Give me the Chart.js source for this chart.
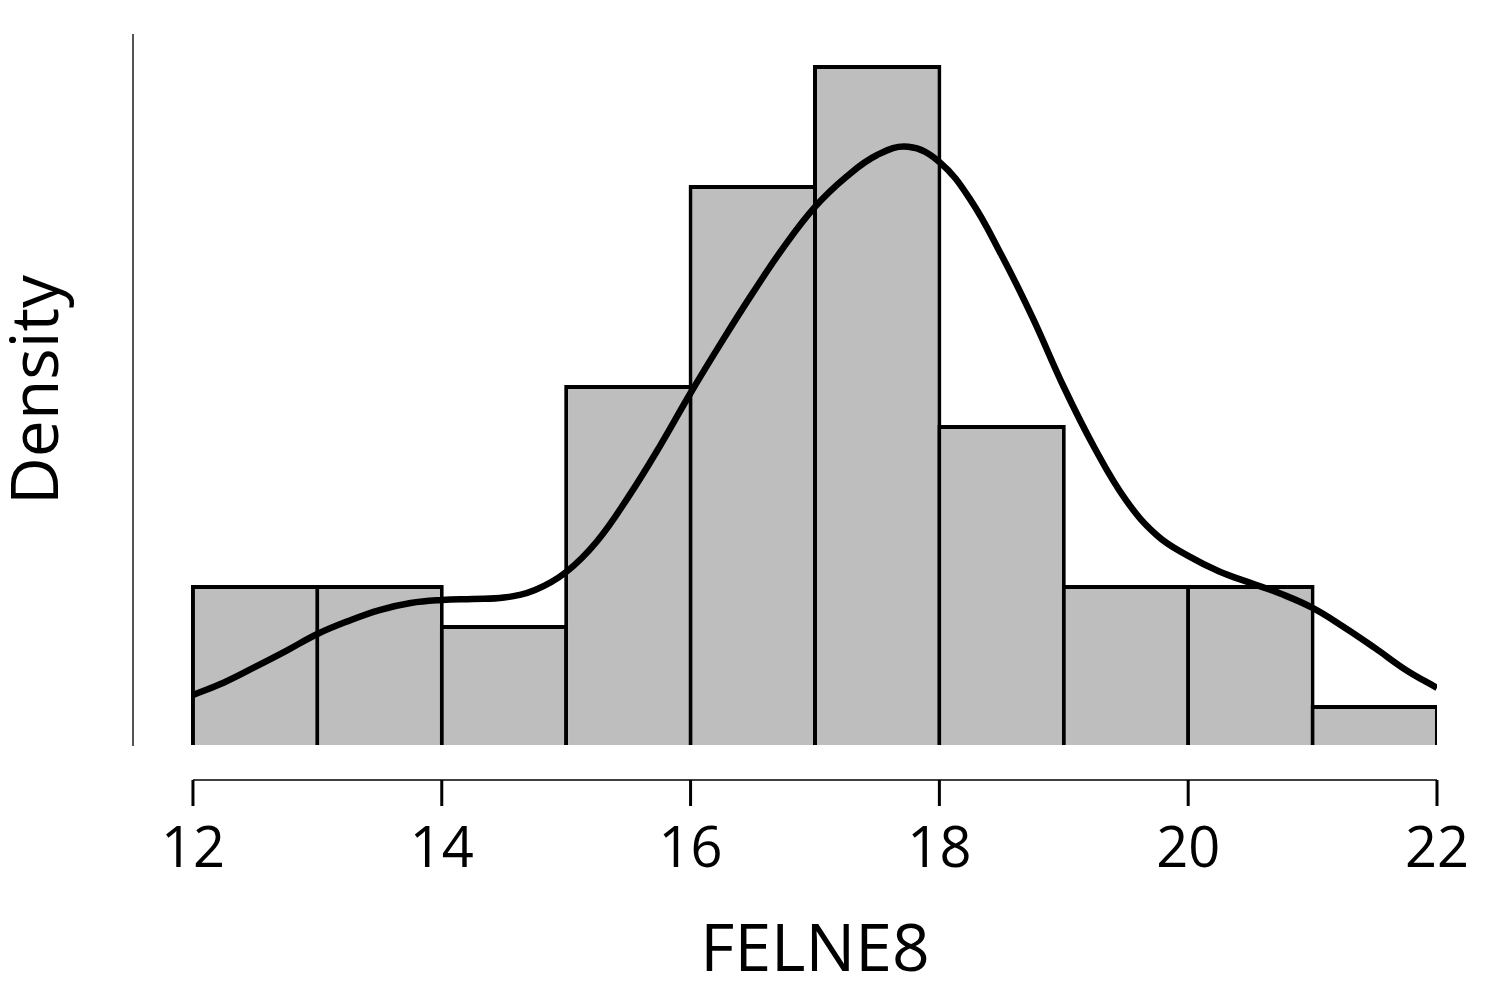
<!DOCTYPE html>
<html>
<head>
<meta charset="utf-8">
<script src="https://cdn.jsdelivr.net/npm/chart.js@4.4.1/dist/chart.umd.min.js"></script>
<style>
  html, body { margin: 0; padding: 0; background: #fff; }
  #wrap { width: 1500px; height: 1000px; }
</style>
</head>
<body>
<div id="wrap"><canvas id="hist" width="1500" height="1000"></canvas></div>
<script>
// histogram bins, width 1
const binStarts = [12, 13, 14, 15, 16, 17, 18, 19, 20, 21];
const binCounts = [4, 4, 3, 9, 14, 17, 8, 4, 4, 1];

// density curve, every 0.25
const curveX = [12, 12.25, 12.5, 12.75, 13, 13.25, 13.5, 13.75, 14, 14.25, 14.5, 14.75,
  15, 15.25, 15.5, 15.75, 16, 16.25, 16.5, 16.75, 17, 17.25, 17.5, 17.75,
  18, 18.25, 18.5, 18.75, 19, 19.25, 19.5, 19.75, 20, 20.25, 20.5, 20.75,
  21, 21.25, 21.5, 21.75, 22];
const curveY = [0.0184, 0.0230, 0.0287, 0.0346, 0.0408, 0.0456, 0.0496, 0.0522, 0.0533, 0.0537, 0.0542, 0.0570,
  0.0636, 0.0750, 0.0912, 0.1096, 0.1294, 0.1482, 0.1662, 0.1831, 0.1978, 0.2088, 0.2169, 0.2199,
  0.2143, 0.2004, 0.1800, 0.1570, 0.1316, 0.1090, 0.0900, 0.0770, 0.0695, 0.0638, 0.0596, 0.0555,
  0.0504, 0.0434, 0.0357, 0.0276, 0.0210];

const xTicks = [12, 14, 16, 18, 20, 22];
const xLabel = "FELNE8";
const yLabel = "Density";

const total = binCounts.reduce((a, b) => a + b, 0);
const barData = binStarts.map((s, i) => ({ x: s + 0.5, y: binCounts[i] / total }));
const lineData = curveX.map((v, i) => ({ x: v, y: curveY[i] }));

Chart.defaults.font.family = "'Open Sans'";
Chart.defaults.color = "#000";

// separate x axis line + tick marks below the bars, and the centred x title
const axisPlugin = {
  id: "axisPlugin",
  afterDraw(chart) {
    const { ctx, scales: { x, y } } = chart;
    const base = y.getPixelForValue(0) + 35;
    const x0 = x.getPixelForValue(xTicks[0]);
    const x1 = x.getPixelForValue(xTicks[xTicks.length - 1]);
    ctx.save();
    ctx.strokeStyle = "#000";
    ctx.lineWidth = 1.5;
    ctx.beginPath();
    ctx.moveTo(x0, base);
    ctx.lineTo(x1, base);
    ctx.stroke();
    ctx.lineWidth = 3;
    xTicks.forEach(v => {
      const px = x.getPixelForValue(v);
      ctx.beginPath();
      ctx.moveTo(px, base);
      ctx.lineTo(px, base + 26);
      ctx.stroke();
    });
    ctx.fillStyle = "#000";
    ctx.font = "66px 'Open Sans'";
    ctx.textAlign = "center";
    ctx.textBaseline = "alphabetic";
    ctx.fillText(xLabel, (x0 + x1) / 2, chart.height - 29);
    ctx.restore();
  }
};

new Chart(document.getElementById("hist"), {
  type: "bar",
  data: {
    datasets: [
      {
        type: "line",
        data: lineData,
        borderColor: "#000",
        borderWidth: 6.5,
        pointRadius: 0,
        tension: 0.4,
        fill: false,
        order: 0
      },
      {
        type: "bar",
        data: barData,
        backgroundColor: "#bebebe",
        borderColor: "#000",
        borderWidth: 4,
        barPercentage: 1.032,
        categoryPercentage: 1,
        order: 1
      }
    ]
  },
  options: {
    responsive: false,
    animation: false,
    devicePixelRatio: 1,
    layout: { padding: { top: 35, right: 63, left: 0, bottom: 0 } },
    plugins: { legend: { display: false }, tooltip: { enabled: false } },
    scales: {
      x: {
        type: "linear",
        min: 11.518,
        max: 22,
        offset: false,
        grid: { display: false, drawTicks: false },
        border: { display: false },
        afterBuildTicks: s => { s.ticks = xTicks.map(v => ({ value: v })); },
        afterFit: s => {
          s.height = 255;
          s.paddingLeft = 0;
          s.paddingRight = 0;
        },
        ticks: {
          autoSkip: false,
          maxRotation: 0,
          padding: 72,
          color: "#000",
          font: { size: 56 }
        }
      },
      y: {
        min: 0,
        max: 0.261,
        grid: { display: false },
        border: { display: true, color: "#555", width: 2 },
        ticks: { display: false },
        afterFit: s => { s.width = 133; },
        title: {
          display: true,
          text: yLabel,
          color: "#000",
          padding: 0,
          font: { size: 66 }
        }
      }
    }
  },
  plugins: [axisPlugin]
});
</script>
</body>
</html>
